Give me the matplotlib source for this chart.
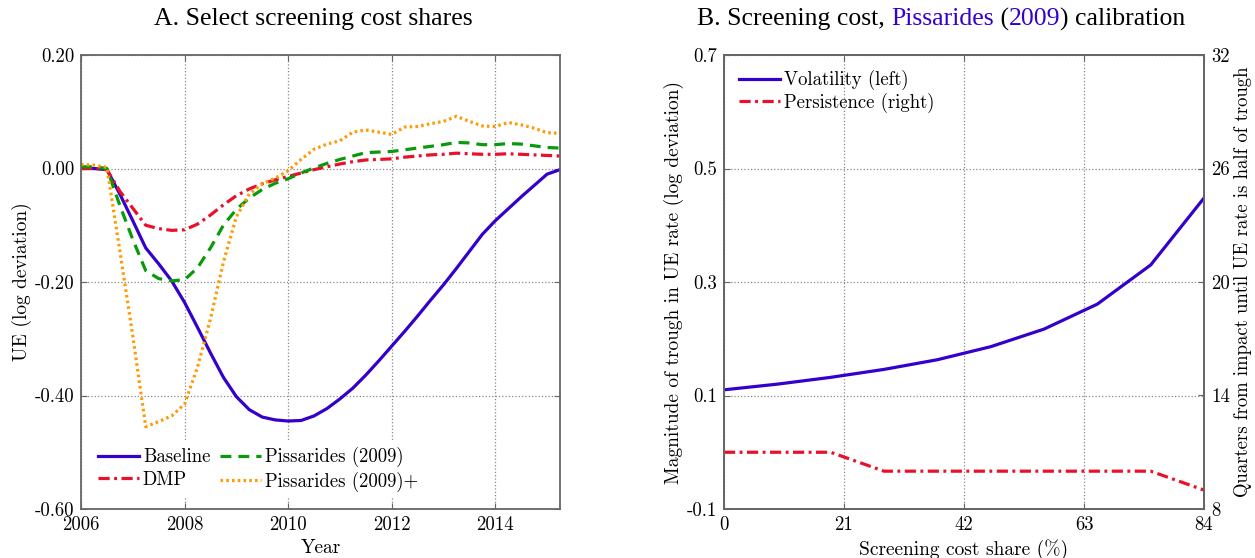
import numpy as np
import matplotlib
matplotlib.use("Agg")
import matplotlib.pyplot as plt
from matplotlib.ticker import FixedLocator, FuncFormatter

# --- Panel A: UE responses (quarterly, 2006Q1 - 2015Q2) ---
quarters = np.arange(2006.0, 2015.26, 0.25)

baseline = [0.000, 0.000, -0.002, -0.045, -0.092, -0.140, -0.168, -0.198,
            -0.236, -0.280, -0.325, -0.368, -0.402, -0.425, -0.438, -0.443,
            -0.445, -0.444, -0.436, -0.423, -0.406, -0.387, -0.364, -0.339,
            -0.313, -0.287, -0.260, -0.232, -0.205, -0.176, -0.146, -0.116,
            -0.092, -0.071, -0.050, -0.030, -0.010, -0.002]
dmp = [0.000, 0.000, -0.002, -0.040, -0.070, -0.100, -0.106, -0.109,
       -0.108, -0.098, -0.082, -0.064, -0.048, -0.036, -0.027, -0.020,
       -0.014, -0.008, -0.002, 0.003, 0.008, 0.012, 0.015, 0.016,
       0.017, 0.020, 0.022, 0.024, 0.025, 0.027, 0.026, 0.025,
       0.025, 0.026, 0.025, 0.024, 0.023, 0.022]
pissarides = [0.003, 0.003, 0.000, -0.065, -0.125, -0.180, -0.194, -0.198,
              -0.196, -0.175, -0.140, -0.100, -0.072, -0.052, -0.037, -0.026,
              -0.018, -0.008, 0.001, 0.009, 0.016, 0.022, 0.028, 0.029,
              0.030, 0.033, 0.036, 0.039, 0.042, 0.046, 0.045, 0.042,
              0.042, 0.044, 0.043, 0.040, 0.037, 0.036]
pissarides_plus = [0.007, 0.006, 0.002, -0.145, -0.295, -0.455, -0.446, -0.436,
                   -0.415, -0.350, -0.265, -0.165, -0.085, -0.045, -0.027, -0.017,
                   -0.004, 0.016, 0.034, 0.043, 0.049, 0.064, 0.068, 0.064,
                   0.060, 0.073, 0.074, 0.079, 0.083, 0.092, 0.083, 0.075,
                   0.074, 0.081, 0.077, 0.071, 0.063, 0.062]

# --- Panel B: screening cost share ---
cost_share = [0, 9.33, 18.67, 28, 37.33, 46.67, 56, 65.33, 74.67, 84]
volatility = [0.110, 0.120, 0.132, 0.146, 0.163, 0.186, 0.217, 0.261, 0.330, 0.448]
persistence = [11, 11, 11, 10, 10, 10, 10, 10, 10, 9]

BLUE = "#3300cc"
RED = "#e8102a"
GREEN = "#0a990a"
ORANGE = "#ff9a00"
SPINE = "#666666"

plt.rcParams["font.family"] = ["cmr10", "DejaVu Serif"]
plt.rcParams["axes.unicode_minus"] = False
TITLE_FONT = "Liberation Serif"
TICK_FS = 13.5
LABEL_FS = 14
LEG_FS = 13.5
TITLE_FS = 18.5

fig = plt.figure(figsize=(12.55, 5.58), dpi=100)
axl = fig.add_axes([81 / 1255, 49 / 558, 479 / 1255, 454 / 558])
axr = fig.add_axes([724 / 1255, 49 / 558, 480 / 1255, 454 / 558])


def style_axes(ax):
    for s in ax.spines.values():
        s.set_color(SPINE)
        s.set_linewidth(1.3)
    ax.tick_params(direction="in", top=True, right=True, length=4,
                   color=SPINE, labelsize=TICK_FS, pad=5)
    ax.grid(True, linestyle=":", color="#888888", linewidth=0.9)
    ax.set_axisbelow(True)


# Panel A
style_axes(axl)
lw = 2.3
dashdot = (0, (3.5, 1.4, 0.9, 1.4))
axl.plot(quarters, baseline, color=BLUE, lw=lw, label="Baseline")
axl.plot(quarters, dmp, color=RED, lw=lw, linestyle=dashdot, label="DMP")
axl.plot(quarters, pissarides, color=GREEN, lw=lw, linestyle=(0, (3.4, 2.2)),
         label="Pissarides (2009)")
axl.plot(quarters, pissarides_plus, color=ORANGE, lw=lw, linestyle=(0, (0.8, 1.0)),
         label="Pissarides (2009)+")
axl.set_xlim(2006, 2015.25)
axl.set_ylim(-0.6, 0.2)
axl.xaxis.set_major_locator(FixedLocator([2006, 2008, 2010, 2012, 2014]))
axl.yaxis.set_major_locator(FixedLocator([-0.6, -0.4, -0.2, 0.0, 0.2]))
axl.yaxis.set_major_formatter(FuncFormatter(lambda v, p: f"{v:.2f}".replace("-0.00", "0.00")))
axl.set_xlabel("Year", fontsize=LABEL_FS, labelpad=4)
axl.set_ylabel("UE (log deviation)", fontsize=LABEL_FS, labelpad=2)
leg = axl.legend(loc="lower left", ncol=2, frameon=True, fontsize=LEG_FS,
                 handlelength=2.2, handletextpad=0.2, columnspacing=0.5,
                 labelspacing=0.25, borderaxespad=0.6, borderpad=0.3)
leg.get_frame().set_edgecolor("none")
leg.get_frame().set_facecolor("white")
leg.get_frame().set_alpha(1)

# Panel B
style_axes(axr)
axr.tick_params(right=False)
l1, = axr.plot(cost_share, volatility, color=BLUE, lw=lw, label="Volatility (left)")
axr.set_xlim(0, 84)
axr.set_ylim(-0.1, 0.7)
axr.xaxis.set_major_locator(FixedLocator([0, 21, 42, 63, 84]))
axr.yaxis.set_major_locator(FixedLocator([-0.1, 0.1, 0.3, 0.5, 0.7]))
axr.yaxis.set_major_formatter(FuncFormatter(lambda v, p: f"{v:.1f}"))
axr.set_xlabel("Screening cost share (%)", fontsize=LABEL_FS, labelpad=4)
axr.set_ylabel("Magnitude of trough in UE rate (log deviation)", fontsize=LABEL_FS,
               labelpad=2)

axr2 = axr.twinx()
for s in axr2.spines.values():
    s.set_color(SPINE)
    s.set_linewidth(1.3)
l2, = axr2.plot(cost_share, persistence, color=RED, lw=lw,
                linestyle=dashdot, label="Persistence (right)")
axr2.set_ylim(8, 32)
axr2.yaxis.set_major_locator(FixedLocator([8, 14, 20, 26, 32]))
axr2.tick_params(direction="in", length=4, color=SPINE, labelsize=TICK_FS, pad=5)
axr2.set_ylabel("Quarters from impact until UE rate is half of trough", fontsize=13.5,
                labelpad=3)
leg2 = axr.legend(handles=[l1, l2], loc="upper left", frameon=False, fontsize=LEG_FS,
                  handlelength=2.2, handletextpad=0.2, labelspacing=0.15,
                  borderaxespad=0.4)

# Titles, centred on each half of the figure
title_a = fig.text(0.25, 0.955, "A. Select screening cost shares", ha="center",
                   va="baseline", fontsize=TITLE_FS, family=TITLE_FONT)

pieces = [("B. Screening cost, ", "black"), ("Pissarides", BLUE), (" (", "black"),
          ("2009", BLUE), (") calibration", "black")]
parts = [fig.text(0, 0, txt, fontsize=TITLE_FS, family=TITLE_FONT, color=col,
                  ha="left", va="baseline") for txt, col in pieces]

fig.canvas.draw()
r = fig.canvas.get_renderer()
widths = [p.get_window_extent(r).width for p in parts]
x = 0.75 * fig.bbox.width - sum(widths) / 2
ybase = 0.955 * fig.bbox.height
for p, w in zip(parts, widths):
    p.set_transform(matplotlib.transforms.IdentityTransform())
    p.set_position((x, ybase))
    x += w

fig.savefig("out.png", dpi=100)
